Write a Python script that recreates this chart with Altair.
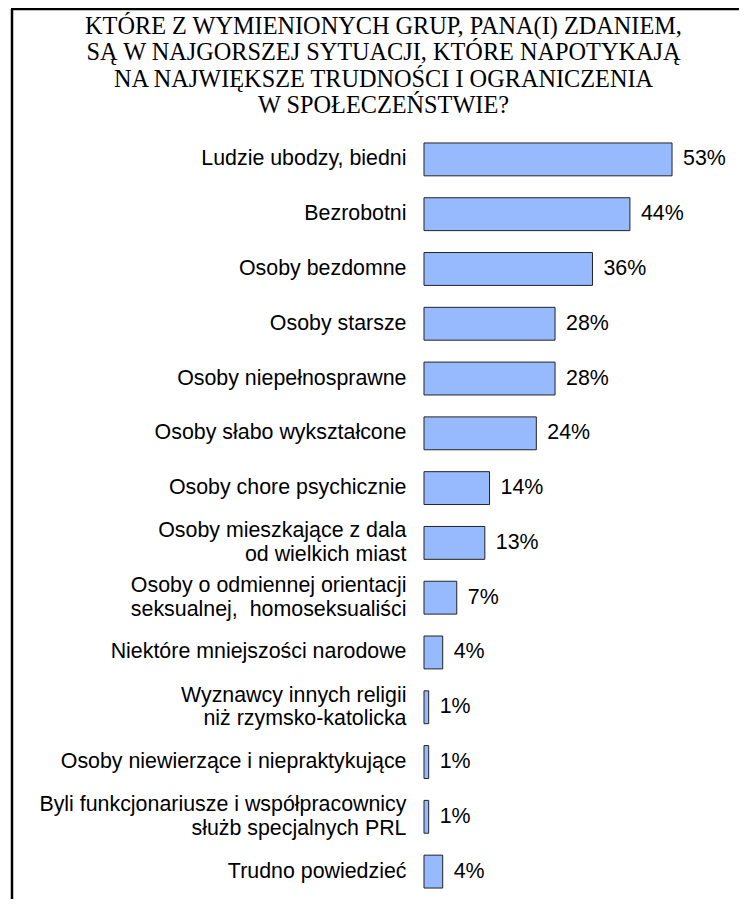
import altair as alt
import pandas as pd

categories = [
    "Ludzie ubodzy, biedni",
    "Bezrobotni",
    "Osoby bezdomne",
    "Osoby starsze",
    "Osoby niepełnosprawne",
    "Osoby słabo wykształcone",
    "Osoby chore psychicznie",
    "Osoby mieszkające z dala\nod wielkich miast",
    "Osoby o odmiennej orientacji\nseksualnej,\u00a0 homoseksualiści",
    "Niektóre mniejszości narodowe",
    "Wyznawcy innych religii\nniż rzymsko-katolicka",
    "Osoby niewierzące i niepraktykujące",
    "Byli funkcjonariusze i współpracownicy\nsłużb specjalnych PRL",
    "Trudno powiedzieć",
]
values = [53, 44, 36, 28, 28, 24, 14, 13, 7, 4, 1, 1, 1, 4]
title_lines = [
    "KTÓRE Z WYMIENIONYCH GRUP, PANA(I) ZDANIEM,",
    "SĄ W NAJGORSZEJ SYTUACJI, KTÓRE NAPOTYKAJĄ",
    "NA NAJWIĘKSZE TRUDNOŚCI I OGRANICZENIA",
    "W SPOŁECZEŃSTWIE?",
]

df = pd.DataFrame({"cat": categories, "val": values})
df["lbl"] = df["val"].astype(str) + "%"
df["multi"] = df["cat"].str.contains("\n")

W = 280.8
H = 767
PAD_L = 416
PAD_T = 124
FS = 21.4

y_enc = alt.Y("cat:N", sort=categories, axis=None,
              scale=alt.Scale(paddingInner=0.4, paddingOuter=0.2))
x_scale = alt.Scale(domain=[0, 60], nice=False, zero=True)

base = alt.Chart(df)

bars = base.mark_bar(color="#97BAFF", stroke="#222222", strokeWidth=1).encode(
    x=alt.X("val:Q", scale=x_scale, axis=None),
    y=y_enc,
)

vals = base.mark_text(align="left", baseline="middle", dx=11,
                      font="Liberation Sans", fontSize=FS, color="black").encode(
    x=alt.X("val:Q", scale=x_scale, axis=None),
    y=y_enc,
    text="lbl:N",
)

cats_single = base.transform_filter("!datum.multi").mark_text(
    align="right", baseline="middle", dx=-17.5,
    font="Liberation Sans", fontSize=FS, color="black").encode(
    x=alt.datum(0, scale=x_scale),
    y=y_enc,
    text="cat:N",
)

cats_multi = base.transform_filter("datum.multi").mark_text(
    align="right", baseline="middle", dx=-17.5, dy=-11.5, lineBreak="\n",
    lineHeight=23.5, font="Liberation Sans", fontSize=FS, color="black").encode(
    x=alt.datum(0, scale=x_scale),
    y=y_enc,
    text="cat:N",
)

title_df = pd.DataFrame({"t": ["\n".join(title_lines)]})
title = alt.Chart(title_df).mark_text(
    align="center", baseline="alphabetic", lineBreak="\n", lineHeight=26.3,
    font="Liberation Serif", fontSize=24.3, color="black").encode(
    x=alt.value(-40.5), y=alt.value(-98), text="t:N")

border_left = alt.Chart(pd.DataFrame({"a": [0]})).mark_rule(
    color="black", strokeWidth=2.5).encode(
    x=alt.value(-412), y=alt.value(-123), y2=alt.value(H + 20))
border_top = alt.Chart(pd.DataFrame({"a": [0]})).mark_rule(
    color="black", strokeWidth=2.5).encode(
    x=alt.value(-413), x2=alt.value(319), y=alt.value(-123))

chart = alt.layer(border_left, border_top, title, bars, vals,
                  cats_single, cats_multi).properties(
    width=W,
    height=H,
    autosize=alt.AutoSizeParams(type="none"),
    padding={"left": PAD_L, "top": PAD_T, "right": 34, "bottom": 0},
).configure_view(stroke=None)

chart.save("out.html", embed_options={"renderer": "svg", "actions": False})
